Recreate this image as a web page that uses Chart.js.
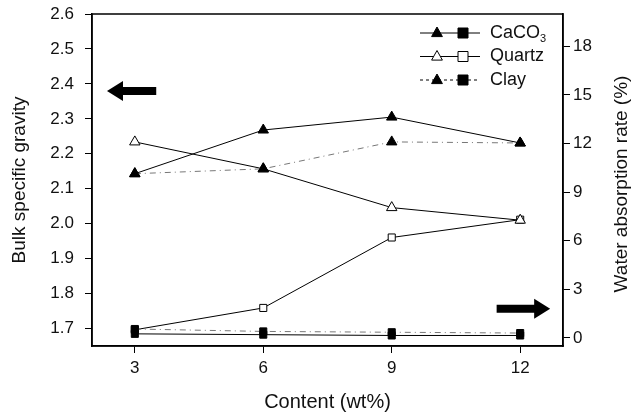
<!DOCTYPE html>
<html><head><meta charset="utf-8">
<script src="https://cdn.jsdelivr.net/npm/chart.js@4/dist/chart.umd.min.js"></script>
<style>html,body{margin:0;padding:0;background:#fff}#wrap{width:634px;height:418px}</style>
</head><body><div id="wrap"><canvas id="c"></canvas></div>
<script>
const contents = [3, 6, 9, 12];
const xTicks = [3, 6, 9, 12];
const leftTicks = [1.7, 1.8, 1.9, 2.0, 2.1, 2.2, 2.3, 2.4, 2.5, 2.6];
const rightTicks = [0, 3, 6, 9, 12, 15, 18];
const caco3Gravity = [2.143, 2.268, 2.305, 2.231];
const quartzGravity = [2.234, 2.157, 2.046, 2.010];
const clayGravity = [2.143, 2.157, 2.234, 2.231];
const caco3Absorption = [0.25, 0.2, 0.15, 0.15];
const quartzAbsorption = [0.5, 1.85, 6.2, 7.3];
const clayAbsorption = [0.55, 0.4, 0.35, 0.3];

const FONT = "'Liberation Sans', Arial, sans-serif";
const pts = (arr) => arr.map((v, i) => ({x: contents[i], y: v}));

function ds(label, data, axis, style, fill, dash, color) {
  return {
    label, data: pts(data), yAxisID: axis,
    borderColor: color, borderWidth: 1, borderDash: dash,
    pointStyle: style, pointRadius: style === 'rect' ? 5 : 6,
    pointBackgroundColor: fill ? '#000' : '#fff', pointBorderColor: '#000', pointBorderWidth: 1,
    tension: 0
  };
}

const datasets = [
  ds('Clay', clayGravity, 'yL', 'triangle', true, [6, 4, 1, 4], '#777'),
  ds('Clay', clayAbsorption, 'yR', 'rect', true, [6, 4, 1, 4], '#777'),
  ds('CaCO3', caco3Gravity, 'yL', 'triangle', true, [], '#000'),
  ds('CaCO3', caco3Absorption, 'yR', 'rect', true, [], '#000'),
  ds('Quartz', quartzGravity, 'yL', 'triangle', false, [], '#000'),
  ds('Quartz', quartzAbsorption, 'yR', 'rect', false, [], '#000'),
];

const legendItems = [
  {label: 'CaCO', sub: '3', fill: true, dash: []},
  {label: 'Quartz', sub: '', fill: false, dash: []},
  {label: 'Clay', sub: '', fill: true, dash: [3, 3]},
];
const rightTitle = 'Water absorption rate (%)';

function arrow(ctx, x1, x2, y, dir) {
  const h = 10, headLen = 16, hw = 4;
  ctx.beginPath();
  if (dir < 0) {
    ctx.moveTo(x1, y);
    ctx.lineTo(x1 + headLen, y - h);
    ctx.lineTo(x1 + headLen, y - hw);
    ctx.lineTo(x2, y - hw);
    ctx.lineTo(x2, y + hw);
    ctx.lineTo(x1 + headLen, y + hw);
    ctx.lineTo(x1 + headLen, y + h);
  } else {
    ctx.moveTo(x2, y);
    ctx.lineTo(x2 - headLen, y - h);
    ctx.lineTo(x2 - headLen, y - hw);
    ctx.lineTo(x1, y - hw);
    ctx.lineTo(x1, y + hw);
    ctx.lineTo(x2 - headLen, y + hw);
    ctx.lineTo(x2 - headLen, y + h);
  }
  ctx.closePath();
  ctx.fillStyle = '#000';
  ctx.fill();
}

const decor = {
  id: 'decor',
  afterDraw(chart) {
    const {ctx, chartArea: a, scales} = chart;
    ctx.save();
    ctx.strokeStyle = '#000';
    ctx.lineWidth = 1.5;
    ctx.strokeRect(a.left, a.top, a.right - a.left, a.bottom - a.top);
    const sx = scales.x, yl = scales.yL, yr = scales.yR;
    arrow(ctx, sx.getPixelForValue(2.35), sx.getPixelForValue(3.5), yl.getPixelForValue(2.38), -1);
    arrow(ctx, sx.getPixelForValue(11.45), sx.getPixelForValue(12.7), yr.getPixelForValue(1.8), 1);
    ctx.save();
    ctx.translate(622, (a.top + a.bottom) / 2 + 4);
    ctx.rotate(-Math.PI / 2);
    ctx.fillStyle = '#111';
    ctx.font = '19px ' + FONT;
    ctx.textAlign = 'center';
    ctx.textBaseline = 'middle';
    ctx.fillText(rightTitle, 0, 0);
    ctx.restore();
    const lx1 = 420, lx2 = 480, tx = 490;
    legendItems.forEach((it, i) => {
      const y = 33 + i * 23.5;
      ctx.strokeStyle = '#000';
      ctx.beginPath();
      ctx.setLineDash(it.dash);
      ctx.lineWidth = 1;
      ctx.moveTo(lx1, y); ctx.lineTo(lx2, y);
      ctx.stroke();
      ctx.setLineDash([]);
      const tx0 = 437, r = 6;
      ctx.beginPath();
      ctx.moveTo(tx0, y - r);
      ctx.lineTo(tx0 + r * 0.9, y + r * 0.6);
      ctx.lineTo(tx0 - r * 0.9, y + r * 0.6);
      ctx.closePath();
      ctx.fillStyle = it.fill ? '#000' : '#fff';
      ctx.fill(); ctx.stroke();
      ctx.beginPath();
      ctx.rect(458, y - 5, 10, 10);
      ctx.fill(); ctx.stroke();
      ctx.fillStyle = '#111';
      ctx.font = '18px ' + FONT;
      ctx.textBaseline = 'middle';
      ctx.textAlign = 'left';
      ctx.fillText(it.label, tx, y);
      if (it.sub) {
        const w = ctx.measureText(it.label).width;
        ctx.font = '11px ' + FONT;
        ctx.fillText(it.sub, tx + w, y + 6);
      }
    });
    ctx.restore();
  }
};

function fitY(width) {
  return (s) => { s.width = width; s.paddingTop = 0; s.paddingBottom = 0; };
}

new Chart(document.getElementById('c'), {
  type: 'line',
  data: {datasets},
  plugins: [decor],
  options: {
    responsive: true, maintainAspectRatio: false, animation: false,
    layout: {padding: {top: 14, left: 0, right: 0, bottom: 0}},
    plugins: {legend: {display: false}, tooltip: {enabled: false}},
    scales: {
      x: {
        type: 'linear', min: 2, max: 13,
        afterBuildTicks: (s) => { s.ticks = xTicks.map(v => ({value: v})); },
        afterFit: (s) => { s.height = 72; s.paddingLeft = 0; s.paddingRight = 0; },
        grid: {drawOnChartArea: false, drawTicks: true, tickLength: 7, color: '#000'},
        border: {color: '#000', width: 1.5},
        ticks: {color: '#111', font: {family: FONT, size: 17}, padding: 5},
        title: {display: true, text: 'Content (wt%)', color: '#111', font: {family: FONT, size: 20}, padding: {top: 5}}
      },
      yL: {
        position: 'left', min: 1.65, max: 2.6,
        afterBuildTicks: (s) => { s.ticks = leftTicks.map(v => ({value: v})); },
        afterFit: fitY(92),
        grid: {drawOnChartArea: false, drawTicks: true, tickLength: 7, color: '#000'},
        border: {color: '#000', width: 1.5},
        ticks: {color: '#111', font: {family: FONT, size: 17}, padding: 11, callback: (v) => v.toFixed(1)},
        title: {display: true, text: 'Bulk specific gravity', color: '#111', font: {family: FONT, size: 19}, padding: {top: 8, bottom: 0}}
      },
      yR: {
        position: 'right', min: -0.5, max: 20,
        afterBuildTicks: (s) => { s.ticks = rightTicks.map(v => ({value: v})); },
        afterFit: fitY(71),
        grid: {drawOnChartArea: false, drawTicks: true, tickLength: 7, color: '#000'},
        border: {color: '#000', width: 1.5},
        ticks: {color: '#111', font: {family: FONT, size: 17}, padding: 3},
        title: {display: false}
      }
    }
  }
});
</script></body></html>
